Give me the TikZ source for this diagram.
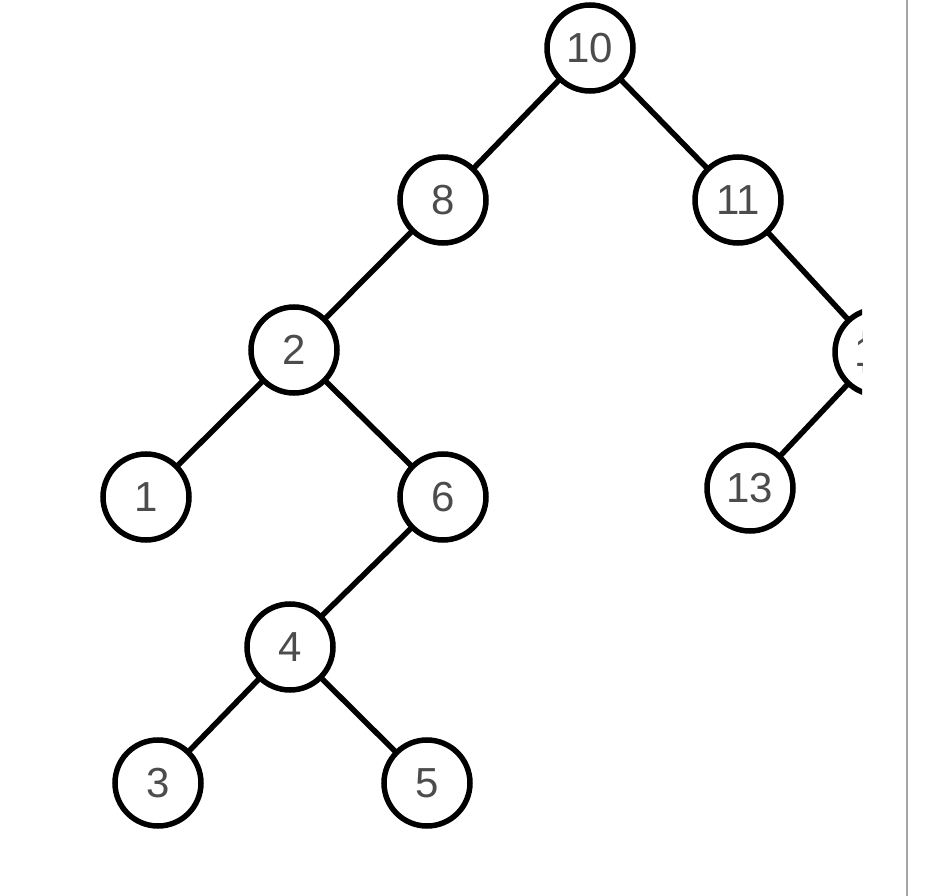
\documentclass[tikz,border=0pt]{standalone}
\usepackage{fontspec}
\setmainfont{Liberation Sans}
\begin{document}
\begin{tikzpicture}[x=1pt,y=-1pt,
  tnode/.style={circle,draw=black,line width=5.5pt,fill=white,minimum size=86pt,inner sep=0pt,
    text=black!70,font=\fontsize{42}{42}\selectfont},
  edge/.style={line width=5.5pt,draw=black}]
\useasboundingbox (0,0) rectangle (930,896);
\fill[white] (0,0) rectangle (930,896);
\begin{scope}
\clip (0,0) rectangle (862,896);
\coordinate (p10) at (590,48);
\coordinate (p8) at (443,200);
\coordinate (p11) at (738,200);
\coordinate (p2) at (294,350);
\coordinate (p14) at (878,352);
\coordinate (p1) at (146,497);
\coordinate (p6) at (443,497);
\coordinate (p13) at (750,488);
\coordinate (p4) at (290,647);
\coordinate (p3) at (158,783);
\coordinate (p5) at (427,783);
\draw[edge] (p10) -- (p8);
\draw[edge] (p10) -- (p11);
\draw[edge] (p8) -- (p2);
\draw[edge] (p11) -- (p14);
\draw[edge] (p2) -- (p1);
\draw[edge] (p2) -- (p6);
\draw[edge] (p14) -- (p13);
\draw[edge] (p6) -- (p4);
\draw[edge] (p4) -- (p3);
\draw[edge] (p4) -- (p5);
\node[tnode] (n10) at (p10) {10};
\node[tnode] (n8) at (p8) {8};
\node[tnode] (n11) at (p11) {11};
\node[tnode] (n2) at (p2) {2};
\node[tnode] (n14) at (p14) {14};
\node[tnode] (n1) at (p1) {1};
\node[tnode] (n6) at (p6) {6};
\node[tnode] (n13) at (p13) {13};
\node[tnode] (n4) at (p4) {4};
\node[tnode] (n3) at (p3) {3};
\node[tnode] (n5) at (p5) {5};
\end{scope}
\coordinate (gtop) at (907,0);
\coordinate (gbot) at (907,896);
\draw[line width=2pt,draw=black!35] (gtop) -- (gbot);
\end{tikzpicture}
\end{document}
